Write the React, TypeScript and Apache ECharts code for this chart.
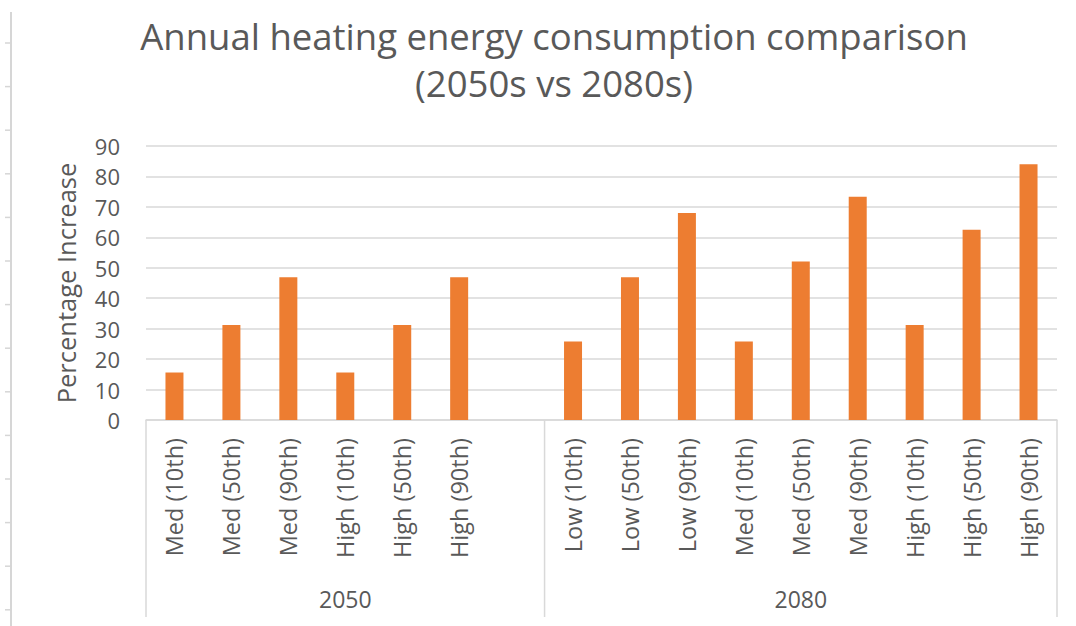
import React, { useEffect, useRef } from "react";
import * as echarts from "echarts";

const titleLines = ["Annual heating energy consumption comparison", "(2050s vs 2080s)"];
const yAxisName = "Percentage Increase";
const yTicks = [0, 10, 20, 30, 40, 50, 60, 70, 80, 90];

const groups = ["2050", "2080"];
const labels2050 = ["Med (10th)", "Med (50th)", "Med (90th)", "High (10th)", "High (50th)", "High (90th)"];
const values2050 = [15.6, 31.2, 46.9, 15.6, 31.2, 46.9];
const labels2080 = [
  "Low (10th)", "Low (50th)", "Low (90th)",
  "Med (10th)", "Med (50th)", "Med (90th)",
  "High (10th)", "High (50th)", "High (90th)",
];
const values2080 = [25.8, 46.9, 68.0, 25.8, 52.1, 73.3, 31.2, 62.5, 84.0];

// one empty slot closes the 2050 group
const categories = [...labels2050, "", ...labels2080];
const values: (number | string)[] = [...values2050, "-", ...values2080];
const groupSpans = [
  [0, labels2050.length],
  [labels2050.length + 1, labels2050.length + 1 + labels2080.length - 1],
];

const FONT = "'Open Sans', sans-serif";
const TEXT = "#595959";
const GRID = "#d9d9d9";
const BAR = "#ED7D31";

export default function App() {
  const ref = useRef<HTMLDivElement>(null);
  useEffect(() => {
    if (!ref.current) return;
    const chart = echarts.init(ref.current, undefined, { renderer: "svg" });
    chart.setOption({
      animation: false,
      backgroundColor: "#ffffff",
      textStyle: { fontFamily: FONT },
      title: {
        text: titleLines.join("\n"),
        left: 549,
        top: 7,
        textAlign: "center",
        textStyle: {
          fontFamily: FONT,
          fontSize: 36.5,
          fontWeight: "normal",
          color: TEXT,
          lineHeight: 47,
        },
      },
      grid: { left: 146, right: 19, top: 146, bottom: 206 },
      xAxis: {
        type: "category",
        data: categories,
        axisLine: { lineStyle: { color: GRID, width: 1.5 } },
        axisTick: { show: false },
        axisLabel: {
          interval: 0,
          rotate: 90,
          margin: 18,
          color: TEXT,
          fontFamily: FONT,
          fontSize: 23.5,
        },
        splitLine: { show: false },
      },
      yAxis: {
        type: "value",
        min: yTicks[0],
        max: yTicks[yTicks.length - 1],
        interval: 10,
        name: yAxisName,
        nameLocation: "middle",
        nameGap: 67,
        nameTextStyle: { color: TEXT, fontFamily: FONT, fontSize: 25.5 },
        axisLine: { show: false },
        axisTick: { show: false },
        axisLabel: { color: TEXT, fontFamily: FONT, fontSize: 22, margin: 26 },
        splitLine: { lineStyle: { color: GRID, width: 1.5 } },
      },
      series: [
        {
          type: "bar",
          data: values,
          barWidth: 18,
          itemStyle: { color: BAR },
        },
      ],
    });

    const px = (i: number) => chart.convertToPixel({ xAxisIndex: 0 }, i) as number;
    const y0 = chart.convertToPixel({ yAxisIndex: 0 }, 0) as number;
    const bw = px(1) - px(0);
    const bottomY = y0 + 197;
    const dividerXs = [px(0) - bw / 2, px(groupSpans[1][0]) - bw / 2, px(categories.length - 1) + bw / 2];
    const graphics: any[] = dividerXs.map((x) => ({
      type: "line",
      shape: { x1: x, y1: y0, x2: x, y2: bottomY },
      style: { stroke: GRID, lineWidth: 1.5 },
      silent: true,
    }));
    groups.forEach((g, gi) => {
      const [a, b] = groupSpans[gi];
      const cx = (px(a) - bw / 2 + px(b) + bw / 2) / 2;
      graphics.push({
        type: "text",
        x: cx,
        y: 599,
        style: {
          text: g,
          fill: TEXT,
          font: `23px ${FONT}`,
          textAlign: "center",
          textVerticalAlign: "middle",
        },
        silent: true,
      });
    });
    // cropped edge of a neighbouring figure at the far left
    graphics.push({
      type: "line",
      shape: { x1: 11, y1: 12, x2: 11, y2: 626 },
      style: { stroke: "#d6d6d6", lineWidth: 2 },
      silent: true,
    });
    for (let k = 0; k < 14; k++) {
      const ty = 43 + k * 43.6;
      graphics.push({
        type: "line",
        shape: { x1: 5, y1: ty, x2: 11, y2: ty },
        style: { stroke: "#d6d6d6", lineWidth: 1.5 },
        silent: true,
      });
    }
    chart.setOption({ graphic: graphics });

    return () => chart.dispose();
  }, []);
  return (
    <div
      ref={ref}
      style={{ position: "fixed", left: 0, top: 0, width: 1076, height: 626, background: "#fff" }}
    />
  );
}
